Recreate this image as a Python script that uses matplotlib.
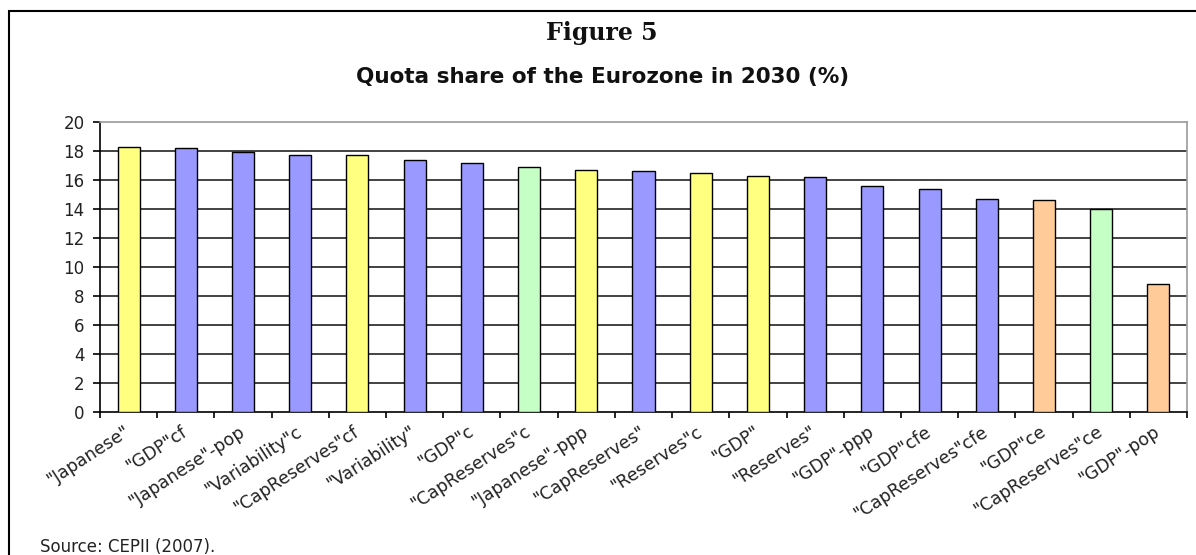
import matplotlib
matplotlib.use("Agg")
import matplotlib.pyplot as plt
from matplotlib.patches import Rectangle

categories = ['"Japanese"', '"GDP"cf', '"Japanese"-pop', '"Variability"c',
              '"CapReserves"cf', '"Variability"', '"GDP"c', '"CapReserves"c',
              '"Japanese"-ppp', '"CapReserves"', '"Reserves"c', '"GDP"',
              '"Reserves"', '"GDP"-ppp', '"GDP"cfe', '"CapReserves"cfe',
              '"GDP"ce', '"CapReserves"ce', '"GDP"-pop']
values = [18.3, 18.2, 17.9, 17.7, 17.7, 17.4, 17.2, 16.9, 16.7, 16.6,
          16.5, 16.3, 16.2, 15.6, 15.4, 14.7, 14.6, 14.0, 8.8]
groups = ['y', 'b', 'b', 'b', 'y', 'b', 'b', 'g', 'y', 'b',
          'y', 'y', 'b', 'b', 'b', 'b', 'o', 'g', 'o']
palette = {'y': '#FFFF80', 'b': '#9999FF', 'g': '#C6FFC6', 'o': '#FFCC99'}
yticks = list(range(0, 21, 2))

plt.rcParams['font.family'] = ['DejaVu Sans']

W, H = 1196, 555
fig = plt.figure(figsize=(W / 100, H / 100), dpi=100)
ax = fig.add_axes([100 / W, 1 - 412 / H, (1187 - 100) / W, (412 - 122) / H])

x = list(range(len(categories)))
ax.bar(x, values, width=0.385, color=[palette[g] for g in groups],
       edgecolor='black', linewidth=1.0, zorder=3)

ax.set_xlim(-0.5, len(categories) - 0.5)
ax.set_ylim(0, 20)
ax.set_yticks(yticks)
ax.set_yticklabels([str(t) for t in yticks], fontsize=12, color='#222222')
for t in yticks[1:-1]:
    ax.axhline(t, color='#222222', linewidth=1.2, zorder=1)

ax.set_xticks([i - 0.5 for i in range(len(categories) + 1)], minor=True)
ax.set_xticks(x)
ax.set_xticklabels(categories, rotation=33, ha='right', va='center',
                   rotation_mode='anchor', fontsize=12.5, color='#222222')
ax.tick_params(axis='x', which='major', length=0, pad=13)
ax.tick_params(axis='x', which='minor', length=4, width=1.2, direction='out', color='black')
ax.tick_params(axis='y', length=5, width=1.2, direction='out', pad=6)

for side in ['top', 'right']:
    ax.spines[side].set_color('#999999')
    ax.spines[side].set_linewidth(1.2)
for side in ['left', 'bottom']:
    ax.spines[side].set_color('black')
    ax.spines[side].set_linewidth(1.2)

fig.text(602 / W, 1 - 33 / H, 'Figure 5', ha='center', va='center',
         fontsize=17, fontweight='bold', family=['DejaVu Serif'], color='#111111')
fig.text(603 / W, 1 - 77 / H, 'Quota share of the Eurozone in 2030 (%)',
         ha='center', va='center', fontsize=15.5, fontweight='bold', color='#111111')
fig.text(40 / W, 1 - 547 / H, 'Source: CEPII (2007).', ha='left', va='center',
         fontsize=12, color='#222222')

fig.patches.append(Rectangle((9 / W, -0.05), 1.1, 1 - 11 / H + 0.05,
                             transform=fig.transFigure, fill=False,
                             edgecolor='black', linewidth=1.5, clip_on=False))

fig.savefig('out.png', dpi=100)
